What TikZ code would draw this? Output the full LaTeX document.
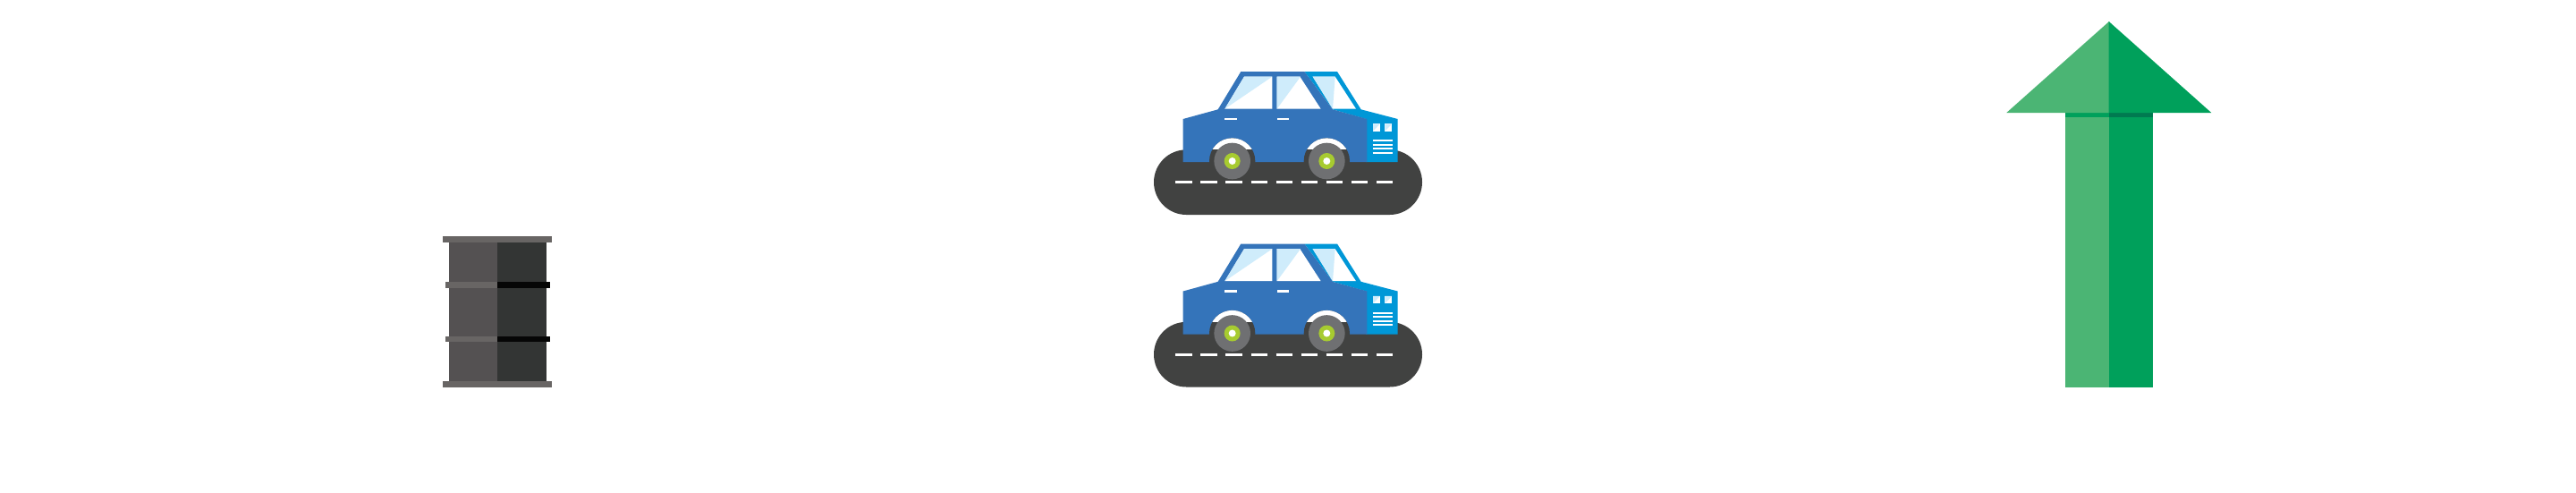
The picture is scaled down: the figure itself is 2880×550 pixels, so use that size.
\documentclass[tikz,border=0pt]{standalone}
\definecolor{barL}{HTML}{545152}
\definecolor{barR}{HTML}{333534}
\definecolor{barBand}{HTML}{686564}
\definecolor{barBlack}{HTML}{060606}
\definecolor{carBlue}{HTML}{3474BA}
\definecolor{carCyan}{HTML}{0097D7}
\definecolor{road}{HTML}{414241}
\definecolor{tyre}{HTML}{6F7072}
\definecolor{hub}{HTML}{A7CB30}
\definecolor{pale}{HTML}{CFECFB}
\definecolor{arrL}{HTML}{4BB574}
\definecolor{arrR}{HTML}{00A05B}
\definecolor{arrD}{HTML}{007A50}
\tikzset{
  vent/.style={white,line width=1.7pt},
  dashline/.style={white,line width=3pt},
  carscope/.style={x=0.33333pt,y=-0.33333pt}
}
\newcommand{\wheelat}[1]{%
  \fill[road] (#1,360) circle[radius=77];
  \begin{scope}
    \clip (#1-90,270) rectangle (#1+90,320);
    \fill[white] (#1,360) circle[radius=77];
  \end{scope}
  \fill[tyre] (#1,360) circle[radius=61];
  \fill[hub] (#1,360) circle[radius=27];
  \fill[white] (#1,360) circle[radius=12];
}
\begin{document}
\begin{tikzpicture}[x=1pt,y=-1pt]
\useasboundingbox (0,0) rectangle (2880,550);
\fill[white] (0,0) rectangle (2880,550);
% barrel
\fill[barL] (501.7,271) rectangle (556.2,426);
\fill[barR] (556,271) rectangle (611,426);
\fill[barBand] (495.3,264) rectangle (617.3,271);
\fill[barBand] (495.3,426) rectangle (617.3,432.7);
\fill[barBand] (498,315) rectangle (556,321.7);
\fill[barBand] (498,375.7) rectangle (556,382.3);
\fill[barBlack] (556,315) rectangle (615,321.7);
\fill[barBlack] (556,375.7) rectangle (615,382.3);
% cars
\foreach \dy in {0,192.5}{
\begin{scope}[shift={(1270,60+\dy)},carscope]
  \fill[road,rounded corners=36.3pt] (60,322) rectangle (960,540);
  \fill[carCyan] (565,60) -- (675,60) -- (755,187) -- (878,219) -- (878,363) -- (772,363) -- (772,219) -- (660,187) -- cycle;
  \fill[carBlue] (158,219) -- (275,187) -- (352,60) -- (565,60) -- (660,187) -- (775,219) -- (775,363) -- (158,363) -- cycle;
  % windows
  \fill[white] (363,77) -- (457,77) -- (457,185) -- (298,185) -- cycle;
  \fill[pale] (363,77) -- (457,77) -- (298,185) -- cycle;
  \fill[white] (473,77) -- (550,77) -- (620,185) -- (473,185) -- cycle;
  \fill[pale] (473,77) -- (552,77) -- (473,185) -- cycle;
  \fill[white] (593,77) -- (668,77) -- (738,185) -- (660,185) -- cycle;
  \fill[pale] (593,77) -- (668,77) -- (660,185) -- cycle;
  % handles
  \fill[white] (298,215) rectangle (338,222);
  \fill[white] (473,215) rectangle (513,222);
  % headlights
  \foreach \hx in {795,835}{
    \fill[white] (\hx,235) rectangle (\hx+24,260);
    \fill[pale] (\hx,235) -- (\hx+24,235) -- (\hx,260) -- cycle;
  }
  % vents
  \foreach \vy in {292,305,319,332}
    \draw[vent] (794,\vy) -- (861,\vy);
  % wheels
  \wheelat{323}
  \wheelat{640}
  % road markings
  \foreach \i in {0,...,8}
    \draw[dashline] ({133+84.2*\i},431) -- ++(55,0);
\end{scope}
}
% arrow
\fill[arrL] (2309,126) rectangle (2358,432.7);
\fill[arrR] (2357.7,126) rectangle (2406.7,432.7);
\fill[arrR] (2309,126) rectangle (2357.7,131);
\fill[arrD] (2357.7,126) rectangle (2406.7,131);
\fill[arrL] (2358,24) -- (2358,126) -- (2243.3,126) -- cycle;
\fill[arrR] (2357.7,24) -- (2472.3,126) -- (2357.7,126) -- cycle;
\end{tikzpicture}
\end{document}
